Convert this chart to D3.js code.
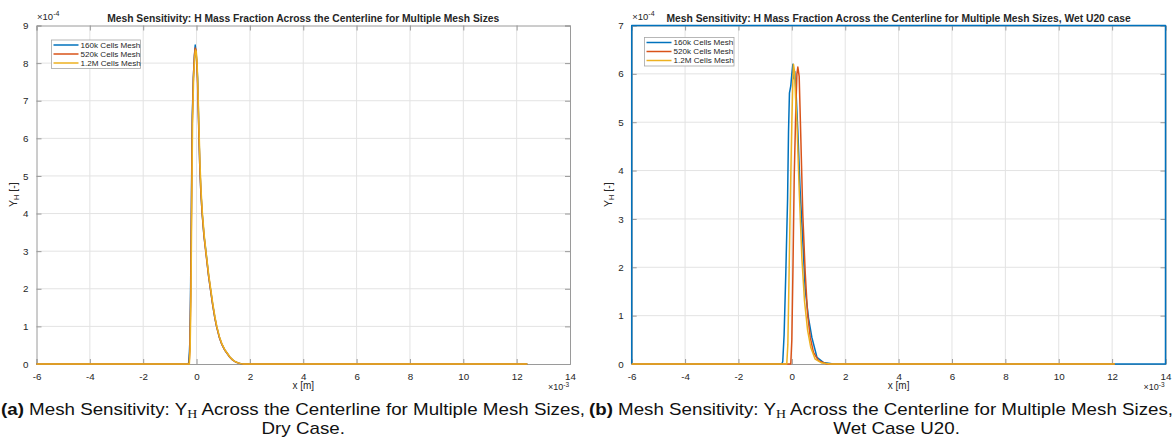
<!DOCTYPE html>
<html><head><meta charset="utf-8">
<script src="https://cdn.jsdelivr.net/npm/d3@7"></script>
<style>
html,body{margin:0;padding:0;background:#fff;}
svg{display:block;font-family:"Liberation Sans",Arial,Helvetica,sans-serif;}
</style></head>
<body>
<svg id="chart" width="1174" height="448"></svg>
<script>
// ---------- DATA (x in 1e-3 m, Y_H in 1e-4) ----------
const seriesNames = ["160k Cells Mesh", "520k Cells Mesh", "1.2M Cells Mesh"];
const seriesColors = ["#0072BD", "#D95319", "#EDB120"];
const xTicks = [-6, -4, -2, 0, 2, 4, 6, 8, 10, 12, 14];
const dryYTicks = [0, 1, 2, 3, 4, 5, 6, 7, 8, 9];
const wetYTicks = [0, 1, 2, 3, 4, 5, 6, 7];

// Dry case
const dry160kX = [-6, -0.3, -0.27, -0.25, -0.22, -0.19, -0.16, -0.12, -0.08, -0.05, -0.03, 0, 0.04, 0.08, 0.12, 0.16, 0.21, 0.28, 0.35, 0.45, 0.52, 0.6, 0.68, 0.75, 0.85, 0.95, 1.05, 1.13, 1.25, 1.35, 1.45, 1.55, 1.65, 1.75, 12.4];
const dry160kY = [0, 0, 0.3, 0.6, 2.2, 4.5, 6.6, 7.6, 8.2, 8.48, 8.35, 8.1, 7.6, 6.4, 5.3, 4.6, 4.0, 3.4, 3.0, 2.35, 2.0, 1.6, 1.25, 1.0, 0.72, 0.52, 0.38, 0.3, 0.18, 0.11, 0.06, 0.03, 0.01, 0, 0];
const dry520kX = [-6, -0.28, -0.25, -0.22, -0.19, -0.16, -0.12, -0.08, -0.05, -0.02, 0.01, 0.04, 0.08, 0.12, 0.16, 0.21, 0.28, 0.35, 0.45, 0.52, 0.6, 0.68, 0.75, 0.85, 0.95, 1.05, 1.13, 1.25, 1.35, 1.45, 1.55, 1.65, 1.75, 12.4];
const dry520kY = [0, 0, 0.4, 1.8, 4.2, 6.4, 7.6, 8.2, 8.4, 8.35, 8.0, 7.4, 6.3, 5.3, 4.6, 4.0, 3.4, 2.95, 2.35, 2.0, 1.6, 1.25, 1.0, 0.72, 0.52, 0.38, 0.3, 0.18, 0.11, 0.06, 0.03, 0.01, 0, 0];
const dry12MX = [-6, -0.27, -0.24, -0.21, -0.18, -0.15, -0.11, -0.07, -0.04, -0.01, 0.02, 0.05, 0.09, 0.13, 0.17, 0.22, 0.29, 0.36, 0.46, 0.53, 0.61, 0.69, 0.76, 0.86, 0.96, 1.06, 1.14, 1.26, 1.36, 1.46, 1.56, 1.66, 1.76, 12.4];
const dry12MY = [0, 0, 0.4, 1.8, 4.2, 6.4, 7.6, 8.15, 8.35, 8.3, 8.0, 7.4, 6.3, 5.3, 4.6, 4.0, 3.4, 2.95, 2.35, 2.0, 1.6, 1.25, 1.0, 0.72, 0.52, 0.38, 0.3, 0.18, 0.11, 0.06, 0.03, 0.01, 0, 0];

// Wet U20 case
const wet160kX = [-6, -0.375, -0.34, -0.29, -0.225, -0.16, -0.125, -0.09, -0.04, 0, 0.04, 0.075, 0.11, 0.16, 0.225, 0.31, 0.41, 0.5, 0.625, 0.75, 0.94, 1.19, 1.56, 14, 14, -6, -6];
const wet160kY = [0, 0, 0.05, 0.6, 1.9, 3.4, 4.8, 5.6, 5.75, 6.0, 6.2, 5.9, 6.05, 5.6, 4.8, 3.6, 2.55, 1.55, 0.95, 0.55, 0.14, 0.03, 0, 0, 7, 7, 0];
const wet520kX = [-6, -0.04, 0, 0.04, 0.09, 0.15, 0.19, 0.225, 0.275, 0.34, 0.41, 0.5, 0.59, 0.69, 0.81, 1.0, 1.31, 12.1];
const wet520kY = [0, 0, 0.5, 1.9, 3.9, 5.3, 6.0, 6.14, 5.95, 4.6, 3.1, 1.9, 1.03, 0.55, 0.24, 0.07, 0, 0];
const wet12MX = [-6, -0.19, -0.15, -0.125, -0.06, 0, 0.04, 0.06, 0.1, 0.14, 0.19, 0.275, 0.375, 0.475, 0.59, 0.71, 0.875, 1.125, 1.44, 12.1];
const wet12MY = [0, 0, 0.4, 1.17, 3.3, 5.0, 5.9, 6.2, 6.05, 5.5, 5.0, 3.6, 2.2, 1.3, 0.7, 0.34, 0.1, 0.02, 0, 0];

// ---------- DRAWING ----------
const svg = d3.select("#chart");
const txt = "#262626";

function drawPanel(p) {
  const g = svg.append("g");
  const x = d3.scaleLinear().domain([-6, 14]).range([p.left, p.right]);
  const y = d3.scaleLinear().domain([0, p.yMax]).range([p.bottom, p.top]);

  // grid
  g.append("g").selectAll("line").data(xTicks.slice(1, -1)).join("line")
    .attr("x1", d => x(d)).attr("x2", d => x(d)).attr("y1", p.top).attr("y2", p.bottom)
    .attr("stroke", "#e3e3e3").attr("stroke-width", 1);
  g.append("g").selectAll("line").data(p.yTicks.slice(1, -1)).join("line")
    .attr("y1", d => y(d)).attr("y2", d => y(d)).attr("x1", p.left).attr("x2", p.right)
    .attr("stroke", "#e3e3e3").attr("stroke-width", 1);

  // axes (ticks inside, box on)
  const tl = 5;
  const axB = d3.axisBottom(x).tickValues(xTicks).tickSize(-tl).tickPadding(tl + 4).tickFormat(d => String(d));
  const axT = d3.axisTop(x).tickValues(xTicks).tickSize(-tl).tickFormat("");
  const axL = d3.axisLeft(y).tickValues(p.yTicks).tickSize(-tl).tickPadding(tl + 3).tickFormat(d => String(d));
  const axR = d3.axisRight(y).tickValues(p.yTicks).tickSize(-tl).tickFormat("");
  const styleAx = sel => {
    sel.select(".domain").attr("stroke", "#9a9a9a");
    sel.selectAll(".tick line").attr("stroke", "#9a9a9a");
    sel.selectAll(".tick text").attr("fill", txt).style("font-size", "9.8px")
      .style("font-family", '"Liberation Sans", Arial, sans-serif');
  };
  g.append("g").attr("transform", `translate(0,${p.bottom})`).call(axB).call(styleAx);
  g.append("g").attr("transform", `translate(0,${p.top})`).call(axT).call(styleAx);
  g.append("g").attr("transform", `translate(${p.left},0)`).call(axL).call(styleAx);
  g.append("g").attr("transform", `translate(${p.right},0)`).call(axR).call(styleAx);

  // lines
  const line = d3.line().x(d => x(d[0])).y(d => y(d[1]));
  p.series.forEach((s, i) => {
    const pts = s.x.map((v, k) => [v, s.y[k]]);
    g.append("path").datum(pts).attr("d", line)
      .attr("fill", "none").attr("stroke", seriesColors[i]).attr("stroke-width", 1.5)
      .attr("stroke-linejoin", "round");
  });

  // title
  g.append("text").attr("x", (p.left + p.right) / 2).attr("y", p.top - 3.5)
    .attr("text-anchor", "middle").attr("font-weight", "bold").attr("font-size", "10.3px")
    .attr("fill", txt).text(p.title);

  // y exponent
  const ex = g.append("text").attr("x", p.left + 0.5).attr("y", p.top - 6)
    .attr("font-size", "9.5px").attr("fill", txt);
  ex.append("tspan").text("×10");
  ex.append("tspan").attr("dy", -4).attr("font-size", "7px").text("-4");

  // x exponent
  const ex2 = g.append("text").attr("x", p.right - 1).attr("y", p.bottom + 26)
    .attr("text-anchor", "end").attr("font-size", "9px").attr("fill", txt);
  ex2.append("tspan").text("×10");
  ex2.append("tspan").attr("dy", -3.5).attr("font-size", "6.5px").text("-3");

  // x label
  g.append("text").attr("x", (p.left + p.right) / 2).attr("y", p.bottom + 25)
    .attr("text-anchor", "middle").attr("font-size", "10px").attr("fill", txt).text("x [m]");

  // y label
  const yl = g.append("text")
    .attr("transform", `translate(${p.left - 20},${(p.top + p.bottom) / 2}) rotate(-90)`)
    .attr("text-anchor", "middle").attr("font-size", "10.5px").attr("fill", txt);
  yl.append("tspan").text("Y");
  yl.append("tspan").attr("dy", 2.5).attr("font-size", "7.5px").text("H");
  yl.append("tspan").attr("dy", -2.5).text(" [-]");

  // legend
  const lg = g.append("g").attr("transform", `translate(${p.legX},${p.legY})`);
  lg.append("rect").attr("x", 0).attr("y", 0).attr("width", p.legW).attr("height", 28.5)
    .attr("fill", "#fff").attr("stroke", "#a6a6a6").attr("stroke-width", 0.8);
  seriesNames.forEach((n, i) => {
    const yy = 5 + i * 9;
    lg.append("line").attr("x1", 2).attr("x2", 27).attr("y1", yy).attr("y2", yy)
      .attr("stroke", seriesColors[i]).attr("stroke-width", 1.5);
    lg.append("text").attr("x", 29).attr("y", yy + 2.8).attr("font-size", "8.1px")
      .attr("fill", txt).text(n);
  });

  // caption (two lines, glyphs widened to the reference width)
  const cx = (p.left + p.right) / 2;
  const fs = 16.6;
  const c1 = svg.append("text").attr("x", p.capX).attr("y", 415)
    .attr("font-size", fs + "px").attr("fill", "#111");
  c1.append("tspan").attr("font-weight", "bold").text(p.capTag);
  c1.append("tspan").text(" Mesh Sensitivity: Y");
  c1.append("tspan").attr("dy", 3.2).attr("font-size", "12.3px")
    .attr("font-family", '"Liberation Serif","DejaVu Serif",serif').text("H");
  c1.append("tspan").attr("dy", -3.2).text(" Across the Centerline for Multiple Mesh Sizes,");
  const c2 = svg.append("text").attr("x", cx + p.cap2Shift).attr("y", 433.5).attr("text-anchor", "middle")
    .attr("font-size", fs + "px").attr("fill", "#111").text(p.cap2);
  const natural = c1.node().getComputedTextLength();
  const factor = 584 / natural;
  c1.attr("textLength", 584).attr("lengthAdjust", "spacingAndGlyphs");
  const n2 = c2.node().getComputedTextLength();
  c2.attr("textLength", n2 * factor).attr("lengthAdjust", "spacingAndGlyphs");
}

drawPanel({
  left: 36.5, right: 570, top: 25.5, bottom: 364, yMax: 9, yTicks: dryYTicks,
  title: "Mesh Sensitivity: H Mass Fraction Across the Centerline for Multiple Mesh Sizes",
  series: [{x: dry160kX, y: dry160kY}, {x: dry520kX, y: dry520kY}, {x: dry12MX, y: dry12MY}],
  legX: 51.5, legY: 40, legW: 89,
  capTag: "(a)", capX: 1, cap2: "Dry Case.", cap2Shift: 0
});
drawPanel({
  left: 631.7, right: 1165.5, top: 25.5, bottom: 364, yMax: 7, yTicks: wetYTicks,
  title: "Mesh Sensitivity: H Mass Fraction Across the Centerline for Multiple Mesh Sizes, Wet U20 case",
  series: [{x: wet160kX, y: wet160kY}, {x: wet520kX, y: wet520kY}, {x: wet12MX, y: wet12MY}],
  legX: 644.5, legY: 37.5, legW: 89.5,
  capTag: "(b)", capX: 589, cap2: "Wet Case U20.", cap2Shift: -2
});
</script>
</body></html>
